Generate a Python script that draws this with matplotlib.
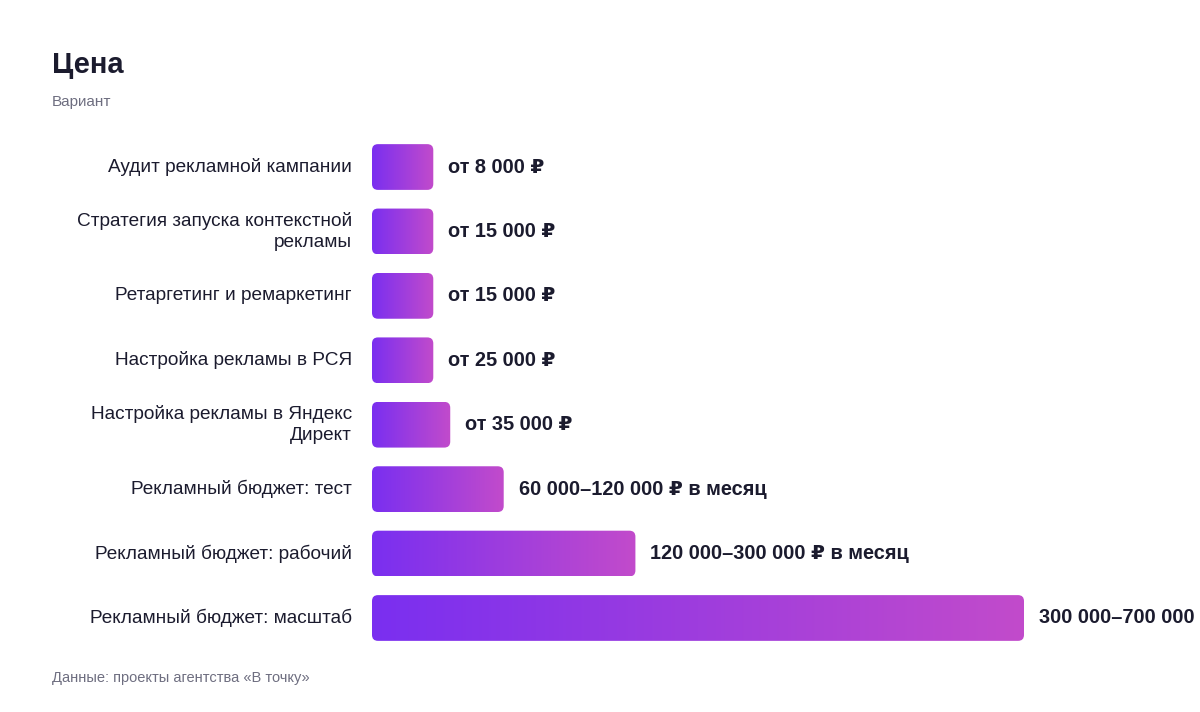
import matplotlib
matplotlib.use("Agg")
import matplotlib.pyplot as plt
import numpy as np
from matplotlib.patches import FancyBboxPatch
from matplotlib.colors import LinearSegmentedColormap

plt.rcParams["font.family"] = ["Liberation Sans", "DejaVu Sans"]

categories = [
    "Аудит рекламной кампании",
    "Стратегия запуска контекстной\nрекламы",
    "Ретаргетинг и ремаркетинг",
    "Настройка рекламы в РСЯ",
    "Настройка рекламы в Яндекс\nДирект",
    "Рекламный бюджет: тест",
    "Рекламный бюджет: рабочий",
    "Рекламный бюджет: масштаб",
]
# bar lengths, thousand roubles (as drawn)
values = [47, 47, 47, 47, 60, 101, 202, 500]
value_labels = [
    "от 8 000 ₽", "от 15 000 ₽", "от 15 000 ₽", "от 25 000 ₽", "от 35 000 ₽",
    "60 000–120 000 ₽ в месяц", "120 000–300 000 ₽ в месяц",
    "300 000–700 000 ₽ в месяц",
]

W, H = 1200, 712
fig = plt.figure(figsize=(12, 7.12), dpi=100)
ax_l, ax_r, ax_t, ax_b = 372, 1024, 134.8, 650.2
ax = fig.add_axes([ax_l / W, 1 - ax_b / H, (ax_r - ax_l) / W, (ax_b - ax_t) / H])
ax.axis("off")

cmap = LinearSegmentedColormap.from_list("g", ["#7a2ff0", "#c24bcb"])
grad = np.linspace(0, 1, 256).reshape(1, -1)
bh = 0.71
xpx = (ax_r - ax_l) / 500
ypx = (ax_b - ax_t) / len(categories)
r = 6 / xpx
for i, (v, lab) in enumerate(zip(values, value_labels)):
    patch = FancyBboxPatch((0, i - bh / 2), v, bh,
                           boxstyle=f"round,pad=0,rounding_size={r}",
                           mutation_aspect=xpx / ypx, fc="none", ec="none")
    ax.add_patch(patch)
    im = ax.imshow(grad, extent=(0, v, i + bh / 2, i - bh / 2), cmap=cmap,
                   aspect="auto", interpolation="bicubic")
    im.set_clip_path(patch)
    ax.text(v + 15 / xpx, i, lab, va="center", ha="left", fontsize=14.4,
            fontweight="bold", color="#1b1b2e", clip_on=False)
    ax.text(-20 / xpx, i, categories[i], va="center", ha="right", fontsize=13.7,
            color="#1b1b2e", linespacing=1.35, clip_on=False)

ax.set_xlim(0, 500)
ax.set_ylim(len(categories) - 0.5, -0.5)

fig.text(52 / W, 1 - 65 / H, "Цена", fontsize=21, fontweight="bold",
         color="#1b1b2e", va="center")
fig.text(52 / W, 1 - 102 / H, "Вариант", fontsize=11, color="#6e6e80",
         va="center")
fig.text(52 / W, 1 - 678 / H, "Данные: проекты агентства «В точку»",
         fontsize=10.5, color="#6e6e80", va="center")

fig.savefig("out.png", dpi=100, facecolor="white")
